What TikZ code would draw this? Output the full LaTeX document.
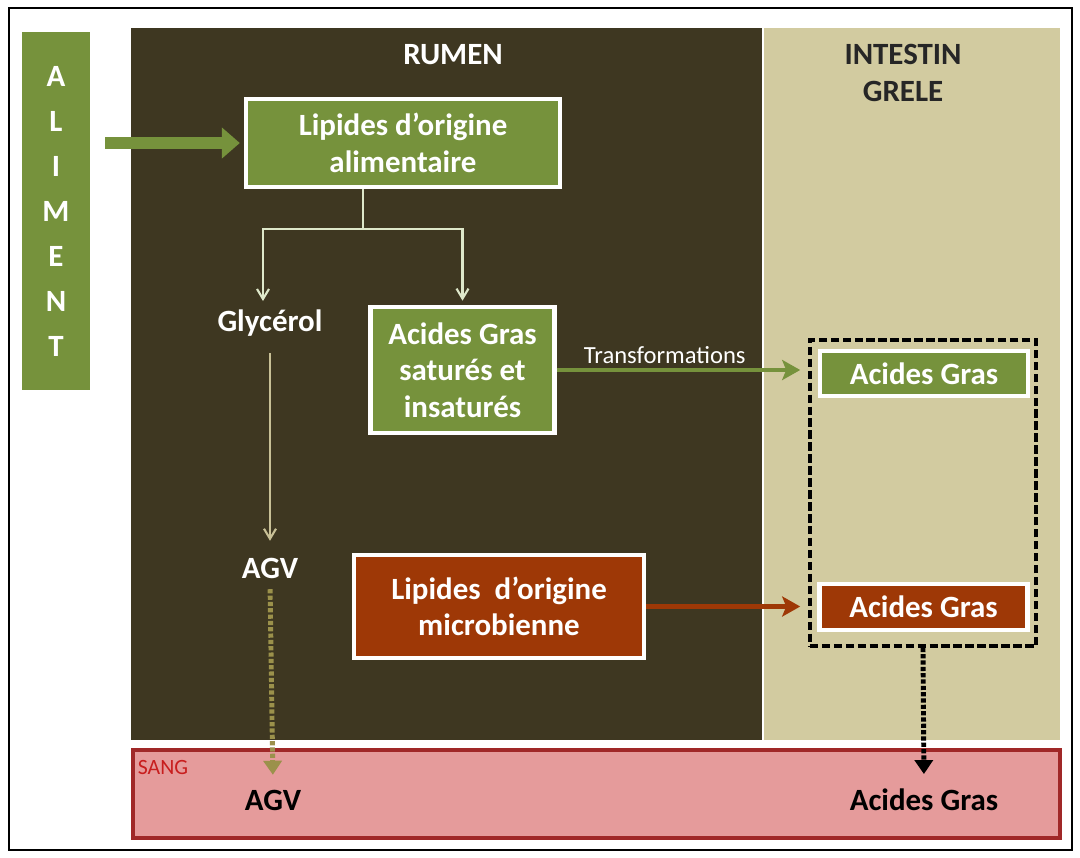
\documentclass[tikz,border=0pt]{standalone}
\usepackage{fontspec}
\setmainfont{Carlito}
\usepackage{tikz}
\usetikzlibrary{arrows.meta, positioning, calc}
\definecolor{vert}{RGB}{118,146,60}
\definecolor{brun}{RGB}{158,56,6}
\definecolor{rumenfond}{RGB}{62,55,33}
\definecolor{intfond}{RGB}{210,203,160}
\definecolor{sangfond}{RGB}{229,155,155}
\definecolor{sangbord}{RGB}{160,40,40}
\definecolor{sangtexte}{RGB}{200,30,30}
\definecolor{pale}{RGB}{222,232,202}
\definecolor{beige}{RGB}{200,192,150}
\definecolor{agvfleche}{RGB}{155,145,75}
\newcommand{\fontgrand}{\fontsize{22}{26}\selectfont}
\newcommand{\fontmoyen}{\fontsize{17.5}{20}\selectfont}
\newcommand{\fontpetit}{\fontsize{15.5}{18}\selectfont}
\tikzset{
  zone/.style={rectangle, inner sep=0pt, draw=none},
  boite/.style={rectangle, draw=white, line width=3pt, text=white, align=center,
                font=\fontgrand\bfseries, inner sep=2pt},
  titre/.style={align=center, font=\fontgrand\bfseries},
  texte/.style={text=white, font=\fontgrand\bfseries},
  etiquette/.style={text=white, font=\fontmoyen},
  trait/.style={draw=pale, line width=1.5pt},
  fin/.style={-{Straight Barb[length=2.5mm,width=3mm]}, draw=pale, line width=1.5pt},
  finbeige/.style={-{Straight Barb[length=2.5mm,width=3mm]}, draw=beige, line width=1.5pt},
  grossefleche/.style={-{Triangle[length=0.45cm,width=0.75cm]}, draw=vert, line width=0.3cm},
  fleche/.style={-{Stealth[length=4.5mm,width=5mm,inset=1mm]}, line width=3pt},
  pointille/.style={-{Triangle[length=3.5mm,width=4.5mm]}, line width=3.5pt,
                    dash pattern=on 3pt off 1.5pt},
}

\begin{document}
\begin{tikzpicture}[x=0.025cm, y=-0.025cm]
\useasboundingbox (0,0) rectangle (1080,857);

% ========== Cadre et zones ==========
\draw[line width=1.2pt] (9,8) rectangle (1072,850);
\node[zone, fill=rumenfond, minimum width=15.775cm, minimum height=17.8cm] (rumen) at (446.5,384) {};
\node[zone, fill=intfond, minimum width=7.4cm, minimum height=17.8cm] (intestin) at (912,384) {};
\node[zone, fill=sangfond, draw=sangbord, line width=3pt, minimum width=23.17cm, minimum height=2.2cm] (sang) at (596.5,794) {};

\node[titre, text=white] (titrerumen) at (453,55) {RUMEN};
\node[titre, text=black!85] (titreint) at (903,73) {INTESTIN\\GRELE};
\node[font=\fontpetit, text=sangtexte] (titresang) at (163,767) {SANG};

% ========== Aliment ==========
\node[zone, fill=vert, minimum width=1.7cm, minimum height=8.95cm, text=white, align=center,
      font=\fontsize{22}{32}\selectfont\bfseries] (aliment) at (56,211) {A\\L\\I\\M\\E\\N\\T};

% ========== Rumen ==========
\node[boite, fill=vert, minimum width=7.85cm, minimum height=2.2cm] (lipalim) at (403,143) {Lipides d’origine\\alimentaire};
\node[texte] (glycerol) at (270,323) {Glycérol};
\node[boite, fill=vert, minimum width=4.6cm, minimum height=3.15cm] (agsat) at (462.5,370) {Acides Gras\\saturés et\\insaturés};
\node[texte] (agv) at (270,568) {AGV};
\node[boite, fill=brun, minimum width=7.25cm, minimum height=2.57cm] (lipmic) at (499,606.5) {Lipides~~d’origine\\microbienne};

% ========== Intestin grêle ==========
\node[zone, draw=black, line width=2.5pt, dash pattern=on 6pt off 2.5pt, minimum width=5.65cm, minimum height=7.65cm] (grp) at (923,493) {};
\node[boite, fill=vert, minimum width=5.2cm, minimum height=1.12cm] (agvert) at (924,373.5) {Acides Gras};
\node[boite, fill=brun, minimum width=5.2cm, minimum height=1.15cm] (agbrun) at (923.5,607) {Acides Gras};

% ========== Sang ==========
\node[font=\fontgrand\bfseries, text=black] (agvsang) at (273,800) {AGV};
\node[font=\fontgrand\bfseries, text=black] (agsang) at (924,800) {Acides Gras};

% ========== Flèches ==========
\draw[grossefleche, shorten <=0.37cm, shorten >=0.1cm] (aliment.east |- lipalim.west) -- (lipalim.west);

\coordinate (fourche) at (363,229);
\coordinate (versgly) at (263,301);
\draw[trait] (fourche |- lipalim.south) -- (fourche);
\draw[fin] (fourche) -| (versgly);
\draw[fin, shorten >=3pt] (fourche) -| (agsat.north);

\draw[finbeige, shorten <=0.3cm, shorten >=0.3cm] (glycerol.south) -- (agv.north);
\draw[pointille, draw=agvfleche, shorten <=0.15cm, shorten >=0.25cm] (agv.south) -- (agvsang.north);

\draw[fleche, draw=vert, shorten >=0.2cm] (agsat.east) -- node[pos=0.43, above, etiquette] {Transformations} (agsat.east -| grp.west);
\draw[fleche, draw=brun, shorten >=0.2cm] (lipmic.east) -- (lipmic.east -| grp.west);
\draw[pointille, draw=black, shorten >=0.25cm] (grp.south) -- (agsang.north);

\end{tikzpicture}
\end{document}
